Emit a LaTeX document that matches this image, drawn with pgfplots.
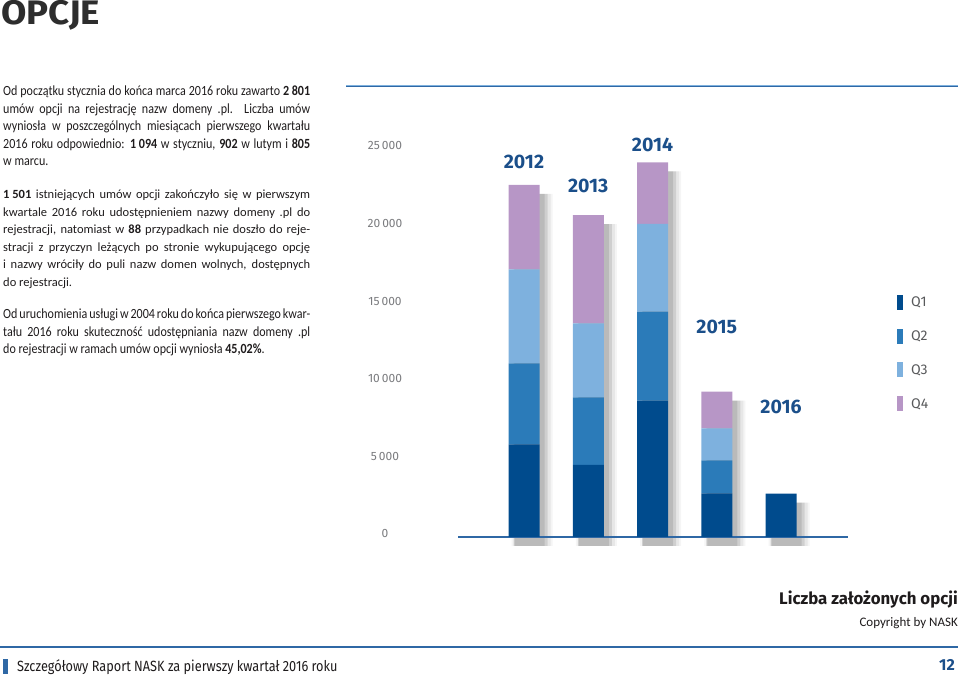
\documentclass[border=0pt]{standalone}
\usepackage{fontspec}
\setmainfont{Carlito}
\newfontfamily\bodyA[FakeStretch=0.86]{Carlito}
\newfontfamily\bodyB{Carlito}
\newfontfamily\fira{Fira Sans}
\newfontfamily\firaN[FakeStretch=0.86]{Fira Sans}
\newfontfamily\firaW[FakeStretch=1.08]{Fira Sans}
\usepackage{pgfplots}
\usepackage{pgfplotstable}
\pgfplotsset{compat=1.18}
\definecolor{qone}{HTML}{004B8D}
\definecolor{qtwo}{HTML}{2B7BB9}
\definecolor{qthree}{HTML}{7EB1DE}
\definecolor{qfour}{HTML}{B796C6}
\definecolor{yearc}{HTML}{1B4F8A}
\definecolor{linec}{HTML}{2F68A5}
\definecolor{tickc}{HTML}{7A7B7E}
\definecolor{txt}{HTML}{1E1B1C}
\definecolor{legc}{HTML}{58595B}
\definecolor{titlec}{HTML}{2D2D2D}

\pgfplotstableread{
x q1 q2 q3 q4 tot
0 5973 5219 6057 5432 22681
1 4639 4362 4768 6978 20747
2 8782 5735 5651 3975 24143
3 2816 2126 2062 2358 9362
4 2801 0 0 0 2801
}\opcdata

\pgfplotsset{base/.style={scale only axis, width=390pt, height=388pt,
  xmin=-1.0272, xmax=5.0428, ymin=0, ymax=25000, clip=false}}

\newcommand\jline[2]{\node[anchor=base west, inner sep=0pt] at (3,#1) {\makebox[307pt][s]{#2}};}
\newcommand\lline[2]{\node[anchor=base west, inner sep=0pt] at (3,#1) {#2};}
\tikzset{yearlab/.style={font=\fira\bfseries\fontsize{19.5}{19.5}\selectfont, text=yearc, inner sep=0pt}}

\begin{document}
\begin{tikzpicture}[x=1pt,y=1pt]
\useasboundingbox (0,0) rectangle (960,679);

% title
\node[anchor=base west, inner sep=0pt, font=\firaW\bfseries\fontsize{34}{34}\selectfont, text=titlec] at (1,654) {OPCJE};

% body text
\begin{scope}[font=\bodyA\fontsize{14}{16}\selectfont, text=txt]
\jline{583}{Od początku stycznia do końca marca 2016 roku zawarto \textbf{\mbox{2 801}}}
\jline{565.5}{umów opcji na rejestrację nazw domeny .pl. Liczba umów}
\jline{548}{wyniosła w poszczególnych miesiącach pierwszego kwartału}
\jline{530.5}{2016 roku odpowiednio: \textbf{\mbox{1 094}} w styczniu, \textbf{902} w lutym i \textbf{805}}
\lline{513}{w marcu.}
\end{scope}
\begin{scope}[font=\bodyB\fontsize{12.5}{15}\selectfont, text=txt]
\jline{480}{\textbf{\mbox{1 501}} istniejących umów opcji zakończyło się w pierwszym}
\jline{462.5}{kwartale 2016 roku udostępnieniem nazwy domeny .pl do}
\jline{445}{rejestracji, natomiast w \textbf{88} przypadkach nie doszło do reje-}
\jline{427.5}{stracji z przyczyn leżących po stronie wykupującego opcję}
\jline{410}{i nazwy wróciły do puli nazw domen wolnych, dostępnych}
\lline{392.5}{do rejestracji.}
\end{scope}
\begin{scope}[font=\bodyA\fontsize{14}{16}\selectfont, text=txt]
\jline{360}{Od uruchomienia usługi w 2004 roku do końca pierwszego kwar-}
\jline{342.5}{tału 2016 roku skuteczność udostępniania nazw domeny .pl}
\lline{325}{do rejestracji w ramach umów opcji wyniosła \textbf{45,02\%}.}
\end{scope}

% top rule
\draw[qthree, line width=0.8pt] (346,593.6) -- (958,593.6);
\draw[linec, line width=1.4pt] (346,592.3) -- (958,592.3);

% shadow axis
\begin{axis}[base, at={(458pt,133pt)}, anchor=south west, axis lines=none, ybar]
\addplot[ybar, bar width=41pt, bar shift=8pt, fill=black, fill opacity=0.04, draw=none] table[x=x,y=tot]{\opcdata};
\addplot[ybar, bar width=37pt, bar shift=8pt, fill=black, fill opacity=0.06, draw=none] table[x=x,y=tot]{\opcdata};
\addplot[ybar, bar width=33pt, bar shift=7pt, fill=black, fill opacity=0.10, draw=none] table[x=x,y=tot]{\opcdata};
\addplot[ybar, bar width=31pt, bar shift=5pt, fill=black, fill opacity=0.10, draw=none] table[x=x,y=tot]{\opcdata};
\end{axis}

% main axis
\begin{axis}[base, at={(458pt,142pt)}, anchor=south west, ybar stacked, bar width=31pt,
  axis x line*=bottom, axis y line*=left,
  y axis line style={draw=none}, x axis line style={draw=linec, line width=1.5pt, -},
  xtick=\empty, ytick={0,5000,10000,15000,20000,25000}, major tick length=0pt,
  scaled y ticks=false,
  yticklabel={\pgfmathprintnumber[1000 sep={\thinspace}, assume math mode=true]{\tick}},
  yticklabel style={anchor=center, xshift=-73pt, yshift=3pt, font=\fira\fontsize{12}{12}\selectfont, text=tickc},
  legend style={at={(1.1256,0.6255)}, anchor=north west, draw=none, fill=none,
    inner sep=0pt, row sep=18.6pt, column sep=6pt,
    font=\fira\fontsize{14}{14}\selectfont, text=legc},
  legend cell align=left,
  legend image code/.code={\fill (0pt,-7.5pt) rectangle (6pt,7.5pt);}]
\addplot[fill=qone, draw=none] table[x=x,y=q1]{\opcdata};
\addplot[fill=qtwo, draw=none] table[x=x,y=q2]{\opcdata};
\addplot[fill=qthree, draw=none] table[x=x,y=q3]{\opcdata};
\addplot[fill=qfour, draw=none] table[x=x,y=q4]{\opcdata};
\legend{Q1,Q2,Q3,Q4}
\node[yearlab] at (axis cs:0,24162) {2012};
\node[yearlab] at (axis cs:1,22616) {2013};
\node[yearlab] at (axis cs:2,25258) {2014};
\node[yearlab] at (axis cs:3,13531) {2015};
\node[yearlab] at (axis cs:4,8376) {2016};
\end{axis}

% captions
\node[anchor=east, inner sep=0pt, font=\fira\bfseries\fontsize{16.8}{16.8}\selectfont, text=txt] at (958,79.7) {Liczba założonych opcji};
\node[anchor=east, inner sep=0pt, font=\bodyB\fontsize{13}{13}\selectfont, text=txt] at (958,56) {Copyright by NASK};

% footer
\draw[linec, line width=1.2pt] (0,32) -- (958,32);
\fill[linec] (3,5) rectangle (8,20);
\node[anchor=west, inner sep=0pt, font=\firaN\fontsize{14.8}{14.8}\selectfont, text=txt] at (17,12.3) {Szczegółowy Raport NASK za pierwszy kwartał 2016 roku};
\node[anchor=east, inner sep=0pt, font=\fira\bfseries\fontsize{16}{16}\selectfont, text=yearc] at (955,14) {12};
\end{tikzpicture}
\end{document}
